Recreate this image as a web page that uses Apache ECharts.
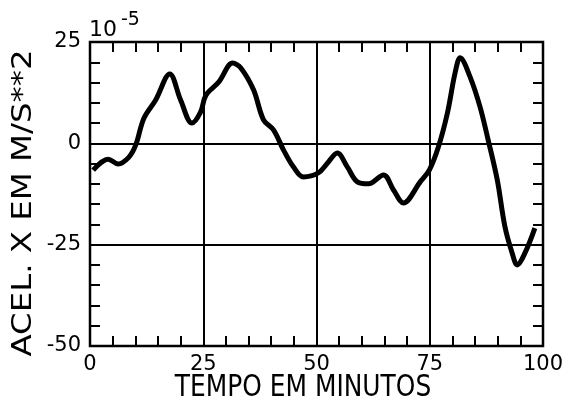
<!DOCTYPE html>
<html>
<head>
<meta charset="utf-8">
<script src="https://cdn.jsdelivr.net/npm/echarts@6/dist/echarts.min.js"></script>
<style>
  html, body { margin: 0; padding: 0; background: #fff; }
  #chart { width: 570px; height: 403px; }
</style>
</head>
<body>
<div id="chart"></div>
<script>
// minutes
const tempo = [0.7, 4, 6.2, 8.6, 10.1, 11.9, 14.5, 17.6, 20, 22.5, 24.4, 25.6, 28.4, 31.5, 33.3, 36.1,
  38.3, 40.5, 42.7, 44.9, 47.1, 50.4, 52.4, 54.6, 56.8, 59, 61.5, 64.8, 67, 69.2, 72.9, 74.9,
  76.9, 78.9, 80.6, 81.7, 83.9, 86.1, 87.9, 89.9, 91.6, 93.2, 94.3, 96, 98.2];
// acceleration x, units of 1e-5 m/s^2
const acel = [-6.6, -3.9, -5.1, -3.4, -0.4, 6.2, 10.7, 17.1, 10.7, 5.0, 7.7, 11.9, 15.1, 19.8, 18.6, 13.2,
  5.8, 3.3, -1.6, -5.8, -8.3, -7.3, -4.9, -2.4, -5.8, -9.5, -10.0, -7.8, -11.5, -14.7, -9.5, -6.6,
  -0.9, 7.5, 17.4, 21.1, 16.4, 9.0, 0.8, -9.0, -20.6, -27.1, -30.0, -27.1, -20.9];
const xTicks = [0, 25, 50, 75, 100];
const yTicks = [-50, -25, 0, 25];

const SANS = '"DejaVu Sans", sans-serif';
const chart = echarts.init(document.getElementById('chart'));

const tickStyle = { color: '#000', width: 2 };
const common = {
  type: 'value', interval: 25,
  axisLine: { show: false, onZero: false },
  axisTick: { show: true, inside: true, length: 10, lineStyle: tickStyle },
  minorTick: { show: true, splitNumber: 5, length: 10, lineStyle: tickStyle },
  minorSplitLine: { show: false }
};
const baseX = Object.assign({}, common, { min: xTicks[0], max: xTicks[xTicks.length - 1] });
const baseY = Object.assign({}, common, { min: yTicks[0], max: yTicks[yTicks.length - 1] });

chart.setOption({
  animation: false,
  grid: {
    left: 90, right: 27, top: 42, bottom: 57, outerBoundsMode: 'none',
    show: true, borderColor: '#000', borderWidth: 2.5
  },
  xAxis: [
    Object.assign({}, baseX, {
      position: 'bottom',
      axisLabel: { color: '#000', fontSize: 21, fontFamily: SANS, margin: 8 },
      splitLine: { show: true, lineStyle: { color: '#000', width: 2 } }
    }),
    Object.assign({}, baseX, { position: 'top', axisLabel: { show: false }, splitLine: { show: false } })
  ],
  yAxis: [
    Object.assign({}, baseY, {
      position: 'left',
      axisLabel: { color: '#000', fontSize: 21, fontFamily: SANS, margin: 9 },
      splitLine: { show: true, lineStyle: { color: '#000', width: 2 } }
    }),
    Object.assign({}, baseY, { position: 'right', axisLabel: { show: false }, splitLine: { show: false } })
  ],
  graphic: [
    { type: 'text', left: 89, top: 19, style: { text: '10', font: '22px ' + SANS, fill: '#000' } },
    { type: 'text', left: 121, top: 11, style: { text: '-5', font: '19px ' + SANS, fill: '#000' } },
    {
      type: 'text', x: 303, y: 388, scaleX: 0.83,
      style: { text: 'TEMPO EM MINUTOS', font: '30px ' + SANS, fill: '#000', align: 'center', verticalAlign: 'middle' }
    },
    {
      type: 'text', x: 24, y: 203, rotation: Math.PI / 2, scaleX: 1.2,
      style: { text: 'ACEL. X EM M/S**2', font: '27px ' + SANS, fill: '#000', align: 'center', verticalAlign: 'middle' }
    }
  ],
  series: [{
    type: 'line',
    data: tempo.map((t, i) => [t, acel[i]]),
    smooth: 0.35,
    showSymbol: false,
    lineStyle: { color: '#000', width: 5 }
  }]
});
</script>
</body>
</html>
